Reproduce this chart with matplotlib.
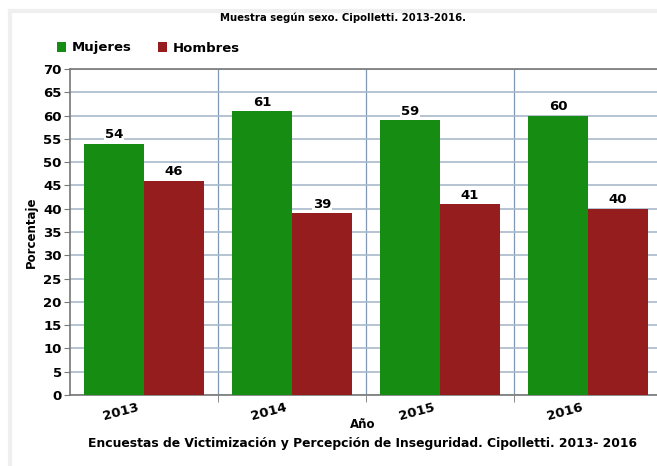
import matplotlib.pyplot as plt
import matplotlib.lines as mlines
import numpy as np

years = ["2013", "2014", "2015", "2016"]
mujeres = [54, 61, 59, 60]
hombres = [46, 39, 41, 40]

green = "#168c12"
red = "#961d1d"
grid_col = "#a9b9cc"
vline_col = "#7f98b5"

fig = plt.figure(figsize=(6.57, 4.66), dpi=100)
# faint screenshot edge at top and left
fig.lines.append(mlines.Line2D([10 / 657, 1], [1 - 11 / 466, 1 - 11 / 466], transform=fig.transFigure,
                               color="#efefef", lw=3))
fig.lines.append(mlines.Line2D([10 / 657, 10 / 657], [0, 1 - 11 / 466], transform=fig.transFigure,
                               color="#efefef", lw=3))
ax = fig.add_axes([70 / 657, 71 / 466, 587 / 657, 326 / 466])

x = np.arange(len(years))
w = 0.405
b1 = ax.bar(x - w / 2, mujeres, w, color=green, label="Mujeres", zorder=3)
b2 = ax.bar(x + w / 2, hombres, w, color=red, label="Hombres", zorder=3)

for bars, vals in [(b1, mujeres), (b2, hombres)]:
    for r, v in zip(bars, vals):
        ax.text(r.get_x() + r.get_width() / 2, v + 0.5, str(v), ha="center", va="bottom",
                fontsize=9.5, fontweight="heavy", zorder=4,
                bbox=dict(facecolor="white", edgecolor="none", pad=0.5))

ax.set_ylim(0, 70)
ax.set_xlim(-0.5, -0.5 + 587 / 148)
ax.set_yticks(range(0, 71, 5))
ax.yaxis.grid(True, color=grid_col, lw=1.2, zorder=0)
for b in [0.5, 1.5, 2.5]:
    ax.axvline(b, color=vline_col, lw=0.9, zorder=1)

ax.set_xticks(x - 0.05)
ax.set_xticklabels(years, rotation=15, fontsize=9.5, fontweight="heavy", ha="right",
                   rotation_mode="anchor")
ax.tick_params(axis="x", length=0, pad=4)
ax.set_xticks([0.5, 1.5, 2.5], minor=True)
ax.tick_params(axis="x", which="minor", length=5, color="#777777", direction="out")
ax.tick_params(axis="y", labelsize=9.5, length=4, color="#777777", pad=2)
for t in ax.get_yticklabels():
    t.set_fontweight("heavy")

for s in ["left", "bottom", "top"]:
    ax.spines[s].set_color("#777777")
    ax.spines[s].set_linewidth(1.2)
ax.spines["right"].set_visible(False)

ax.set_ylabel("Porcentaje", fontsize=8.5, fontweight="heavy", labelpad=4)

fig.text(363 / 657, 1 - 425 / 466, "Año", ha="center", va="center",
         fontsize=8.5, fontweight="heavy")
fig.text(343 / 657, 1 - 18 / 466, "Muestra según sexo. Cipolletti. 2013-2016.",
         ha="center", va="center", fontsize=7.3, fontweight="heavy")
fig.text(363 / 657, 1 - 443 / 466,
         "Encuestas de Victimización y Percepción de Inseguridad. Cipolletti. 2013- 2016",
         ha="center", va="center", fontsize=8.9, fontweight="heavy")

leg = fig.legend(loc="center left", bbox_to_anchor=(57 / 657, 1 - 48 / 466), ncol=2,
                 frameon=False, fontsize=9.5, handlelength=0.7, handleheight=0.7,
                 handletextpad=0.4, columnspacing=2.0, borderaxespad=0, borderpad=0)
for t in leg.get_texts():
    t.set_fontweight("heavy")

fig.savefig("out.png", dpi=100)
